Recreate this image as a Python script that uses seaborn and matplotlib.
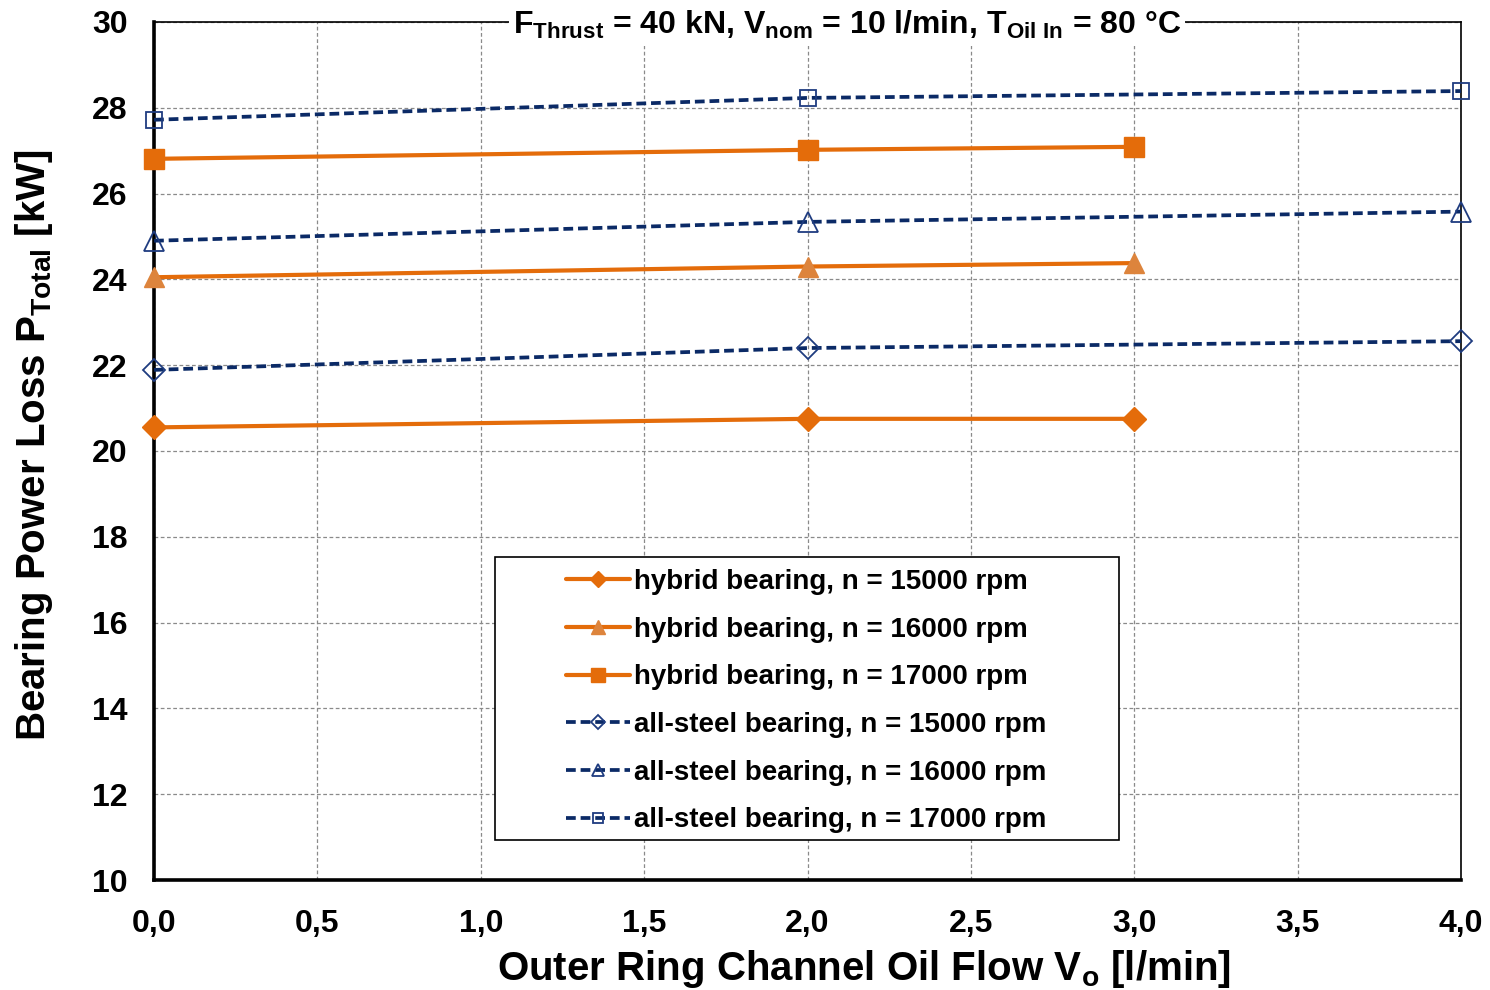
import matplotlib
matplotlib.use("Agg")
import matplotlib.pyplot as plt
from matplotlib.patches import Rectangle
import seaborn as sns
import pandas as pd

# Measured total bearing power loss vs. outer ring channel oil flow
flow_hybrid = [0.0, 2.0, 3.0]
flow_steel = [0.0, 2.0, 4.0]
hybrid_15000 = [20.55, 20.75, 20.75]
hybrid_16000 = [24.05, 24.30, 24.38]
hybrid_17000 = [26.81, 27.02, 27.09]
steel_15000 = [21.89, 22.40, 22.56]
steel_16000 = [24.90, 25.34, 25.58]
steel_17000 = [27.72, 28.23, 28.39]

labels = [
    "hybrid bearing, n = 15000 rpm",
    "hybrid bearing, n = 16000 rpm",
    "hybrid bearing, n = 17000 rpm",
    "all-steel bearing, n = 15000 rpm",
    "all-steel bearing, n = 16000 rpm",
    "all-steel bearing, n = 17000 rpm",
]
x_ticks = [0.0, 0.5, 1.0, 1.5, 2.0, 2.5, 3.0, 3.5, 4.0]
y_ticks = [10, 12, 14, 16, 18, 20, 22, 24, 26, 28, 30]

sns.set_theme(style="white")
plt.rcParams["font.family"] = ["Liberation Sans", "DejaVu Sans"]
plt.rcParams["font.weight"] = "bold"
plt.rcParams["text.color"] = "black"
plt.rcParams["axes.labelcolor"] = "black"
plt.rcParams["xtick.color"] = "black"
plt.rcParams["ytick.color"] = "black"
plt.rcParams["mathtext.fontset"] = "custom"
plt.rcParams["mathtext.rm"] = "Liberation Sans:bold"
plt.rcParams["mathtext.it"] = "Liberation Sans:bold"
plt.rcParams["mathtext.bf"] = "Liberation Sans:bold"

ORANGE = "#E46C0A"
ORANGE_TRI = "#DD843C"
NAVY = "#0B2A66"
NAVY_MK = "#1F3C80"
DASH = (0, (2.6, 1.3))

series = [
    (flow_hybrid, hybrid_15000, labels[0], dict(color=ORANGE, marker="D", ms=12, mfc=ORANGE, mec=ORANGE, ls="-", lw=3.0)),
    (flow_hybrid, hybrid_16000, labels[1], dict(color=ORANGE, marker="^", ms=15, mfc=ORANGE_TRI, mec=ORANGE_TRI, ls="-", lw=3.0)),
    (flow_hybrid, hybrid_17000, labels[2], dict(color=ORANGE, marker="s", ms=15, mfc=ORANGE, mec=ORANGE, ls="-", lw=3.0)),
    (flow_steel, steel_15000, labels[3], dict(color=NAVY, marker="D", ms=11, mfc="none", mec=NAVY_MK, ls=DASH, lw=2.7)),
    (flow_steel, steel_16000, labels[4], dict(color=NAVY, marker="^", ms=14, mfc="none", mec=NAVY_MK, ls=DASH, lw=2.7)),
    (flow_steel, steel_17000, labels[5], dict(color=NAVY, marker="s", ms=12, mfc="none", mec=NAVY_MK, ls=DASH, lw=2.7)),
]

fig = plt.figure(figsize=(14.9, 9.9), dpi=100)
ax = fig.add_axes([0.1034, 0.1111, 0.8772, 0.8667])

for xs, ys, lab, st in series:
    df = pd.DataFrame({"x": xs, "y": ys})
    hollow = st["mfc"] == "none"
    sns.lineplot(data=df, x="x", y="y", ax=ax, label=lab, color=st["color"],
                 linestyle=st["ls"], linewidth=st["lw"], marker=st["marker"],
                 markersize=st["ms"], markerfacecolor=st["mfc"],
                 markeredgecolor=st["mec"], markeredgewidth=1.3 if hollow else 1.0,
                 zorder=3, clip_on=False)

ax.set_xlim(0, 4)
ax.set_ylim(10, 30)
ax.set_xticks(x_ticks)
ax.set_yticks(y_ticks)
ax.set_xticklabels([f"{v:.1f}".replace(".", ",") for v in x_ticks])
ax.set_yticklabels([str(v) for v in y_ticks])
ax.grid(True, color="#8a8a8a", linestyle=(0, (3, 2)), linewidth=0.9)
ax.set_axisbelow(True)

for side in ["left", "bottom"]:
    ax.spines[side].set_linewidth(2.6)
    ax.spines[side].set_color("black")
for side in ["top", "right"]:
    ax.spines[side].set_linewidth(1.2)
    ax.spines[side].set_color("black")
    ax.spines[side].set_visible(True)

ax.tick_params(axis="both", which="major", direction="out", length=7, width=1.5,
               colors="black", labelsize=23, pad=12)
ax.tick_params(axis="x", pad=14)
for t in ax.get_xticklabels() + ax.get_yticklabels():
    t.set_fontweight("bold")

ax.set_xlabel(r"Outer Ring Channel Oil Flow V$_{\mathrm{o}}$ [l/min]", fontsize=29,
              fontweight="bold")
ax.xaxis.set_label_coords(0.5 + 56 / 1307, -0.079, transform=ax.transAxes)
ax.xaxis.label.set_va("top")
ax.set_ylabel(r"Bearing Power Loss P$_{\mathrm{Total}}$ [kW]", fontsize=29,
              fontweight="bold")
ax.yaxis.set_label_coords(-0.076, 0.507, transform=ax.transAxes)

ax.text(0.53, 0.996,
        r"F$_{\mathrm{Thrust}}$ = 40 kN, V$_{\mathrm{nom}}$ = 10 l/min, T$_{\mathrm{Oil\ In}}$ = 80 °C",
        transform=ax.transAxes, ha="center", va="center", fontsize=23, fontweight="bold",
        bbox=dict(facecolor="white", edgecolor="none", pad=3), zorder=5)

# Legend frame and entries
ax.add_patch(Rectangle((0.261, 0.047), 0.477, 0.329, transform=ax.transAxes,
                       facecolor="white", edgecolor="black", linewidth=1.2, zorder=6))
leg = ax.legend(loc="upper left", bbox_to_anchor=(0.309, 0.372),
                fontsize=20, frameon=False, handlelength=2.3, handletextpad=0.15,
                labelspacing=0.78, borderpad=0.3, borderaxespad=0.0, markerscale=0.65)
leg.set_zorder(7)
for t in leg.get_texts():
    t.set_fontweight("bold")

fig.savefig("out.png", dpi=100, facecolor="white")
